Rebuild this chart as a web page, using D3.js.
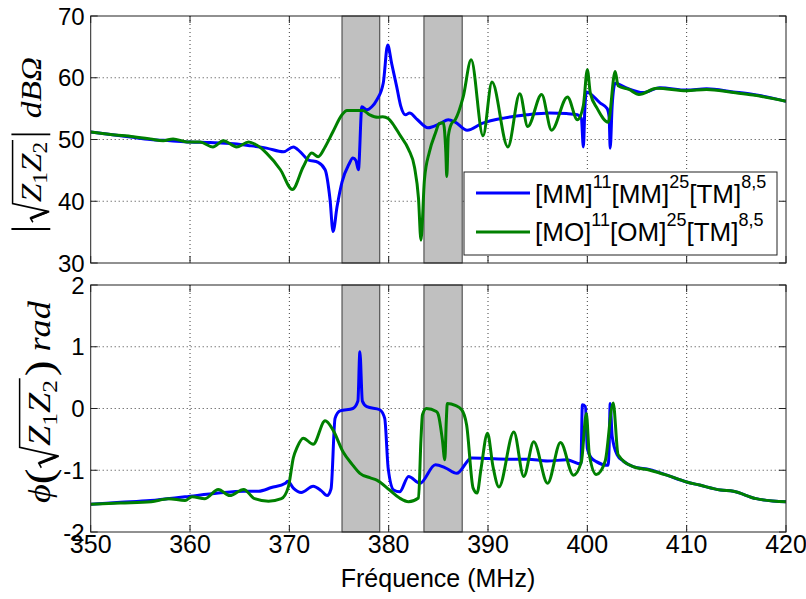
<!DOCTYPE html>
<html><head><meta charset="utf-8">
<script src="https://cdn.jsdelivr.net/npm/d3@7"></script>
<style>body{margin:0;background:#fff}</style>
</head><body><svg id="c" width="806" height="599"></svg>
<script>
// ---------- data ----------
const xTicks = [350,360,370,380,390,400,410,420];
const magTicks = [30,40,50,60,70];
const phaseTicks = [-2,-1,0,1,2];
const bandStart = [375.3, 383.55];
const bandEnd = [379.1, 387.4];
const xLabel = "Fréquence (MHz)";
const legendMM = [["[MM]",0],["11",1],["[MM]",0],["25",1],["[TM]",0],["8,5",1]];
const legendMO = [["[MO]",0],["11",1],["[OM]",0],["25",1],["[TM]",0],["8,5",1]];
const colorMM = "#0000ff", colorMO = "#008000";

// magnitude, series MM (blue)
const magFreqMM = [350,352,354,356,358,360,362,364.4,366,367.7,369.4,370.4,371.1,371.9,372.9,373.6,374.1,374.4,374.8,375.3,376.0,376.4,376.7,376.95,377.3,377.8,378.3,378.8,379.45,379.9,380.3,380.8,381.2,381.7,382.1,382.9,383.95,385.2,386.0,386.7,387.9,389.4,391.7,393.9,396.2,397.9,399.0,399.4,399.6,399.75,399.9,401.3,402.0,402.2,402.3,402.5,402.8,404.0,405.6,407.3,410,412,414.7,416.7,420];
const magMM = [51.2,50.8,50.4,50.0,49.8,49.6,49.5,49.3,49.0,48.6,48.0,48.8,48.0,46.7,46.3,45.1,40.2,35.1,39.1,43.1,46.0,47.0,46.6,45.1,55.3,54.8,55.3,56.4,59.1,65.3,62.3,58.6,55.5,54.0,54.3,53.2,51.9,52.6,53.2,52.8,51.5,52.6,53.5,54.0,54.3,54.2,54.0,53.4,48.8,55.0,57.7,55.9,55.0,53.5,48.6,55.5,59.1,58.3,57.6,58.4,58.0,58.2,57.7,57.3,56.2];
// magnitude, series MO (green)
const magFreqMO = [350,352,354.3,356,357.3,358.3,359.7,361,362.3,363.35,364.7,365.9,366.7,367.7,369.1,370.3,371.4,372.25,372.9,373.6,374.4,375.3,375.8,377.4,378.1,378.9,379.4,379.95,380.6,381.1,382.0,382.6,383.0,383.25,383.6,384.1,384.7,385.1,385.5,385.75,385.85,386.0,386.3,386.7,387.5,388.3,389.5,390.4,392.0,393.2,394.0,395.4,396.4,398.0,399.0,399.6,400.0,400.3,401.0,402.1,402.8,403.1,404.2,405.2,407.0,410,412,414.7,416.7,420];
const magMO = [51.2,50.8,50.45,50.1,49.8,50.1,49.6,49.6,48.8,49.8,48.8,49.6,49.1,47.8,45.1,41.9,45.6,47.8,47.2,48.8,51.3,54.0,54.7,54.7,54.0,53.6,53.7,53.4,52.1,50.8,48.4,45.5,40.5,33.7,43.5,48.0,51.0,52.6,52.7,48.0,44.0,50.5,52.5,53.2,56.9,62.9,50.6,59.3,48.8,57.4,52.1,57.3,51.5,56.9,53.2,55.5,61.3,57.5,55.0,52.8,61.0,58.7,58.1,57.3,58.3,57.9,58.1,57.6,57.2,56.2];
// phase, series MM (blue)
const phFreqMM = [350,353,356,359.5,362.85,365.4,366.9,368.2,369.6,369.85,370.4,371.2,372.4,373.2,373.8,374.2,374.6,375.1,376.4,376.9,377.1,377.35,377.8,379.1,379.6,379.95,380.5,381.1,382.0,383.15,384.7,385.7,386.85,388.35,390.0,392,394,396,397.9,399.35,399.5,399.8,400.0,400.4,400.9,402.1,402.2,402.3,402.5,403.0,403.6,404.6,406.3,408.0,410.0,411.3,413.4,414.7,417.0,420];
const phMM = [-1.55,-1.52,-1.49,-1.43,-1.37,-1.34,-1.34,-1.28,-1.21,-1.18,-1.29,-1.36,-1.26,-1.33,-1.41,-1.30,-0.16,-0.04,0.0,0.12,0.92,0.12,0.03,-0.02,-0.16,-0.97,-1.32,-1.35,-1.10,-1.21,-0.91,-0.96,-1.05,-0.80,-0.81,-0.82,-0.82,-0.85,-0.83,-0.90,0.06,0.03,-0.65,-0.80,-0.86,-0.92,-0.6,0.08,-0.45,-0.75,-0.85,-0.94,-0.99,-1.08,-1.19,-1.24,-1.32,-1.34,-1.46,-1.51];
// phase, series MO (green)
const phFreqMO = [350,353,356.1,357.8,359.5,360.2,361.5,362.85,364.0,365.4,366.5,367.9,369.2,369.9,370.4,370.8,371.4,372.4,373.6,374.4,375.4,376.3,377.1,378.1,378.8,380.1,381.1,382.0,383.0,383.25,383.4,383.8,384.8,385.0,385.4,385.65,385.8,385.9,386.7,387.35,387.85,388.5,388.9,389.3,389.95,390.5,391.1,392.6,393.6,394.6,396.0,397.3,398.6,399.4,399.9,400.2,400.9,401.8,402.6,403.1,404.6,406.3,408.0,410.0,411.3,413.4,414.7,417.0,420.0];
const phMO = [-1.55,-1.53,-1.51,-1.46,-1.49,-1.43,-1.46,-1.31,-1.41,-1.31,-1.46,-1.50,-1.46,-1.27,-0.80,-0.62,-0.48,-0.58,-0.20,-0.35,-0.70,-0.90,-1.05,-1.12,-1.16,-1.32,-1.45,-1.51,-1.45,-0.5,-0.10,0.0,-0.05,-0.1,-0.5,-0.83,-0.2,0.08,0.05,-0.02,-0.27,-1.29,-1.37,-0.97,-0.40,-0.94,-1.27,-0.38,-1.10,-0.54,-1.21,-0.55,-1.08,-0.86,-0.08,-0.75,-1.07,-0.85,0.09,-0.75,-0.94,-1.0,-1.08,-1.19,-1.24,-1.32,-1.34,-1.46,-1.51];

// ---------- drawing ----------
const svg = d3.select("#c");
svg.append("rect").attr("width",806).attr("height",599).attr("fill","#fff");
const SANS = "'Liberation Sans', Arial, sans-serif";
const SERIF = "'Liberation Serif', 'DejaVu Serif', 'Times New Roman', serif";

const x = d3.scaleLinear().domain([350,420]).range([90.7,786]);
const yMag = d3.scaleLinear().domain([30,70]).range([263,16]);
const yPh = d3.scaleLinear().domain([-2,2]).range([532,285]);

function zip(f,v){ return f.map((d,i)=>[d,v[i]]); }

function panel(id, y, ticks, series, showX){
  const g = svg.append("g");
  const [x0,x1] = x.range(), [yb,yt] = y.range();
  g.append("clipPath").attr("id",id).append("rect")
    .attr("x",x0).attr("y",yt).attr("width",x1-x0).attr("height",yb-yt);
  const grid = g.append("g").attr("stroke","#000").attr("stroke-width",1)
    .attr("stroke-dasharray","1,3").attr("opacity",0.75);
  xTicks.slice(1,-1).forEach(t=>grid.append("line").attr("x1",x(t)).attr("x2",x(t)).attr("y1",yt).attr("y2",yb));
  ticks.slice(1,-1).forEach(t=>grid.append("line").attr("x1",x0).attr("x2",x1).attr("y1",y(t)).attr("y2",y(t)));
  bandStart.forEach((b,i)=>{
    g.append("rect").attr("x",x(b)).attr("y",yt).attr("width",x(bandEnd[i])-x(b)).attr("height",yb-yt)
      .attr("fill","#c0c0c0").attr("stroke","#3a3a3a").attr("stroke-width",1);
  });
  const line = d3.line().x(d=>x(d[0])).y(d=>y(d[1])).curve(d3.curveMonotoneX);
  const cg = g.append("g").attr("clip-path",`url(#${id})`);
  series.forEach(s=>{
    cg.append("path").attr("d",line(s.data)).attr("fill","none").attr("stroke",s.color)
      .attr("stroke-width",3).attr("stroke-linejoin","round");
  });
  g.append("rect").attr("x",x0).attr("y",yt).attr("width",x1-x0).attr("height",yb-yt)
    .attr("fill","none").attr("stroke","#222").attr("stroke-width",1);
  const tk = g.append("g").attr("stroke","#222").attr("stroke-width",1);
  xTicks.forEach(t=>{
    tk.append("line").attr("x1",x(t)).attr("x2",x(t)).attr("y1",yb).attr("y2",yb-7);
    tk.append("line").attr("x1",x(t)).attr("x2",x(t)).attr("y1",yt).attr("y2",yt+7);
  });
  ticks.forEach(t=>{
    tk.append("line").attr("x1",x0).attr("x2",x0+7).attr("y1",y(t)).attr("y2",y(t));
    tk.append("line").attr("x1",x1).attr("x2",x1-7).attr("y1",y(t)).attr("y2",y(t));
  });
  ticks.forEach(t=>{
    g.append("text").attr("x",x0-6).attr("y",y(t)).attr("dy","0.36em").attr("text-anchor","end")
      .attr("font-family",SANS).attr("font-size",24).attr("fill","#000").text(t);
  });
  if(showX){
    xTicks.forEach(t=>{
      g.append("text").attr("x",x(t)).attr("y",yb+21).attr("text-anchor","middle")
        .attr("font-family",SANS).attr("font-size",25).attr("fill","#000").text(t);
    });
  }
}

panel("clipTop", yMag, magTicks, [
  {color:colorMM, data:zip(magFreqMM,magMM)},
  {color:colorMO, data:zip(magFreqMO,magMO)}], false);
panel("clipBot", yPh, phaseTicks, [
  {color:colorMM, data:zip(phFreqMM,phMM)},
  {color:colorMO, data:zip(phFreqMO,phMO)}], true);

svg.append("text").attr("x",438).attr("y",587).attr("text-anchor","middle")
  .attr("font-family",SANS).attr("font-size",25).attr("fill","#000").text(xLabel);

// legend
const lg = svg.append("g");
lg.append("rect").attr("x",464).attr("y",172).attr("width",313).attr("height",83)
  .attr("fill","#fff").attr("stroke","#222").attr("stroke-width",1);
[[legendMM,colorMM,193,203],[legendMO,colorMO,232,241]].forEach(([parts,col,ly,by])=>{
  lg.append("line").attr("x1",476).attr("x2",530).attr("y1",ly).attr("y2",ly)
    .attr("stroke",col).attr("stroke-width",3);
  const t = lg.append("text").attr("x",535).attr("y",by).attr("font-family",SANS).attr("fill","#000");
  let prevSup = 0;
  parts.forEach(([s,sup])=>{
    t.append("tspan").attr("font-size",sup?18:26)
      .attr("dy", sup ? -15 : (prevSup ? 15 : 0)).text(s);
    prevSup = sup;
  });
});

// math y labels (rotated), stretched along the text direction to a target length
function mathLabel(cx, cy, fs, target, parts){
  const g = svg.append("g").attr("transform",`translate(${cx},${cy}) rotate(-90)`);
  const inner = g.append("g");
  let cur = 0, sqrtX = 0;
  parts.forEach(p=>{
    if(p.type==="bar"){
      inner.append("line").attr("x1",cur+0.12*fs).attr("x2",cur+0.12*fs)
        .attr("y1",-1.02*fs).attr("y2",0.32*fs).attr("stroke","#000").attr("stroke-width",1.6);
      cur += 0.3*fs;
    } else if(p.type==="sqrtStart"){
      sqrtX = cur;
      cur += 0.62*fs;
    } else if(p.type==="sqrtEnd"){
      const s = sqrtX;
      inner.append("path").attr("d",
        `M${s+0.02*fs},${-0.28*fs} L${s+0.14*fs},${-0.36*fs} L${s+0.34*fs},${0.28*fs} L${s+0.58*fs},${-0.98*fs} L${cur+0.05*fs},${-0.98*fs}`)
        .attr("fill","none").attr("stroke","#000").attr("stroke-width",1.5).attr("stroke-linejoin","miter");
      inner.append("path").attr("d",`M${s+0.14*fs},${-0.36*fs} L${s+0.33*fs},${0.2*fs}`)
        .attr("stroke","#000").attr("stroke-width",2.6);
      cur += 0.1*fs;
    } else if(p.type==="space"){
      cur += p.w*fs;
    } else {
      const size = fs*(p.size||1);
      const t = inner.append("text").attr("x",cur).attr("y",(p.dy||0)*fs)
        .attr("font-family",SERIF).attr("font-size",size)
        .attr("font-style",p.it?"italic":"normal").attr("fill","#000").text(p.t);
      cur += t.node().getComputedTextLength() + (p.kern||0)*fs;
    }
  });
  const k = target/cur;
  inner.attr("transform",`translate(${-target/2},0) scale(${k},1)`);
}
mathLabel(41, 145, 29, 176, [
  {type:"bar"},{type:"sqrtStart"},
  {t:"Z",it:1},{t:"1",size:0.7,dy:0.22},{t:"Z",it:1},{t:"2",size:0.7,dy:0.22},
  {type:"sqrtEnd"},{type:"bar"},{type:"space",w:0.3},{t:"dBΩ",it:1}
]);
mathLabel(50, 402, 31, 202, [
  {t:"ϕ",it:1},{t:"(",size:1.3,dy:0.1},{type:"sqrtStart"},
  {t:"Z",it:1},{t:"1",size:0.7,dy:0.22},{t:"Z",it:1},{t:"2",size:0.7,dy:0.22},
  {type:"sqrtEnd"},{t:")",size:1.3,dy:0.1},{type:"space",w:0.25},{t:"rad",it:1}
]);
</script></body></html>
